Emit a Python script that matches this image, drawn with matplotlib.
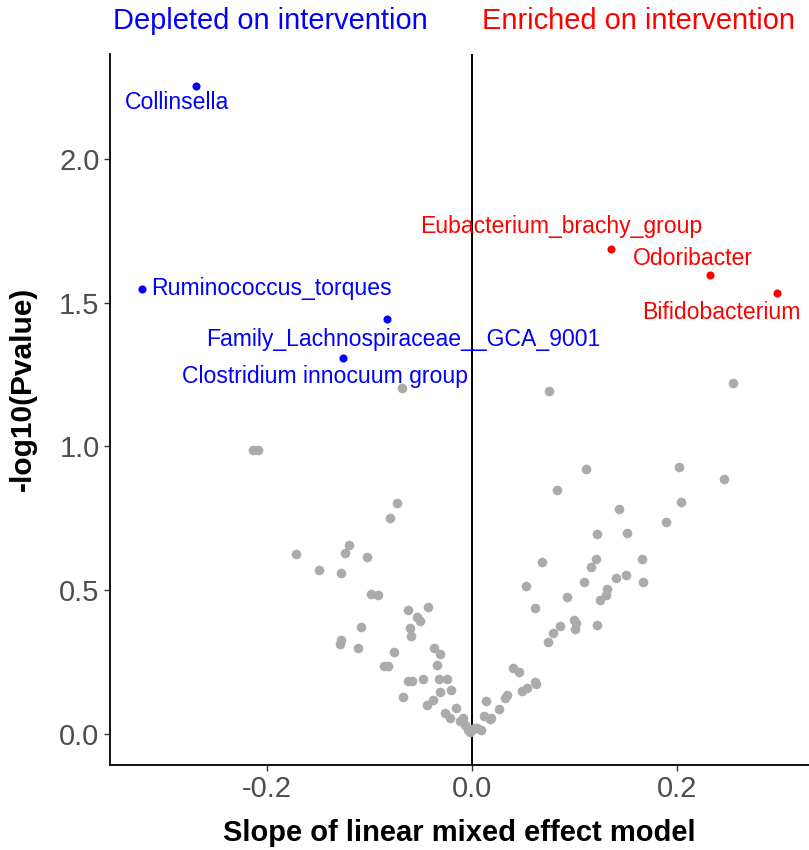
import matplotlib
matplotlib.use("Agg")
import matplotlib.pyplot as plt

plt.rcParams["font.family"] = ["Liberation Sans", "DejaVu Sans"]

# non-significant genera (grey)
grey_x = [-0.068, -0.2134, -0.2085, -0.0729, -0.0797, -0.1197, -0.1236, -0.1714, -0.1024,
          -0.1493, -0.1278, -0.0979, -0.0920, -0.0618, -0.0429, -0.0530, -0.0507, -0.1086,
          -0.0602, -0.0589, -0.1278, -0.1288, -0.1112, -0.0368, -0.0309, -0.0755, -0.0855,
          -0.0820, -0.0341, -0.0618, -0.0585, -0.0478, -0.0322, -0.0244, -0.0315, -0.0205,
          -0.0673, -0.0442, -0.0374, -0.0260, -0.0215, -0.0159, -0.0117, -0.0085, -0.0068,
          -0.0036, -0.0020,
          0.0013, 0.0046, 0.0094, 0.0137, 0.0117, 0.0190, 0.0176, 0.0267, 0.0322, 0.0345,
          0.0400, 0.0463, 0.0491, 0.0540, 0.0615, 0.0624, 0.0530, 0.0612, 0.0745, 0.0751,
          0.2546, 0.1115, 0.2026, 0.0829, 0.2462, 0.2039, 0.1434, 0.1899, 0.1226, 0.1519,
          0.0689, 0.1210, 0.1161, 0.1659, 0.1090, 0.1405, 0.1506, 0.1668, 0.0933, 0.1320,
          0.1314, 0.1252, 0.0793, 0.0865, 0.0995, 0.1015, 0.1005, 0.1223, 0.0030]
grey_y = [1.203, 0.988, 0.988, 0.802, 0.751, 0.658, 0.630, 0.625, 0.614,
          0.569, 0.560, 0.486, 0.482, 0.431, 0.441, 0.406, 0.394, 0.371,
          0.368, 0.340, 0.327, 0.313, 0.298, 0.300, 0.277, 0.286, 0.235,
          0.238, 0.240, 0.185, 0.183, 0.190, 0.190, 0.190, 0.146, 0.152,
          0.128, 0.102, 0.118, 0.074, 0.055, 0.090, 0.046, 0.055, 0.031,
          0.014, 0.008,
          0.016, 0.020, 0.014, 0.116, 0.062, 0.057, 0.051, 0.088, 0.124, 0.136,
          0.228, 0.215, 0.150, 0.159, 0.182, 0.173, 0.514, 0.437, 0.320, 1.194,
          1.219, 0.923, 0.927, 0.849, 0.887, 0.807, 0.782, 0.736, 0.696, 0.699,
          0.598, 0.610, 0.582, 0.608, 0.527, 0.541, 0.553, 0.529, 0.475, 0.504,
          0.485, 0.467, 0.352, 0.377, 0.397, 0.385, 0.365, 0.379, 0.020]

# depleted genera (blue)
dep_names = ["Collinsella", "Ruminococcus_torques", "Family_Lachnospiraceae__GCA_9001",
             "Clostridium innocuum group"]
dep_x = [-0.269, -0.322, -0.083, -0.126]
dep_y = [2.254, 1.548, 1.443, 1.308]

# enriched genera (red)
enr_names = ["Eubacterium_brachy_group", "Odoribacter", "Bifidobacterium"]
enr_x = [0.136, 0.232, 0.298]
enr_y = [1.687, 1.597, 1.534]

# label offsets (points) and alignment
dep_offsets = [(-14, -12, "center"), (7, 0, "left"), (12, -14.5, "center"), (-13, -13.5, "center")]
enr_offsets = [(-36, 16, "center"), (-12, 12, "center"), (-40, -14, "center")]

fig = plt.figure(figsize=(8.09, 8.5), dpi=100)
ax = fig.add_axes([0.136, 0.1, 0.864, 0.8365])

ax.scatter(grey_x, grey_y, s=48, color="#ABABAB", linewidths=0, zorder=2)
ax.scatter(dep_x, dep_y, s=34, color="#0000FF", linewidths=0, zorder=3)
ax.scatter(enr_x, enr_y, s=34, color="#FF0000", linewidths=0, zorder=3)

for name, x, y, (dx, dy, ha) in zip(dep_names, dep_x, dep_y, dep_offsets):
    ax.annotate(name, (x, y), xytext=(dx, dy), textcoords="offset points",
                ha=ha, va="center", color="#0000FF", fontsize=16.6, zorder=4)
for name, x, y, (dx, dy, ha) in zip(enr_names, enr_x, enr_y, enr_offsets):
    ax.annotate(name, (x, y), xytext=(dx, dy), textcoords="offset points",
                ha=ha, va="center", color="#FF0000", fontsize=16.6, zorder=4)

ax.axvline(0, color="black", linewidth=1.4, zorder=1)

ax.set_xlim(-0.353, 0.329)
ax.set_ylim(-0.108, 2.365)
ax.set_xticks([-0.2, 0.0, 0.2])
ax.set_xticklabels(["-0.2", "0.0", "0.2"])
ax.set_yticks([0.0, 0.5, 1.0, 1.5, 2.0])
ax.set_yticklabels(["0.0", "0.5", "1.0", "1.5", "2.0"])
ax.tick_params(labelsize=21, labelcolor="#4D4D4D", length=4, width=1, color="#333333")

for side in ["top", "right"]:
    ax.spines[side].set_visible(False)
for side in ["left", "bottom"]:
    ax.spines[side].set_linewidth(1.3)

ax.set_xlabel("Slope of linear mixed effect model", fontsize=21, fontweight="bold", labelpad=11)
ax.set_ylabel("-log10(Pvalue)", fontsize=21.5, fontweight="bold")
ax.yaxis.set_label_coords(-0.1044, 0.529)

ax.text(0.229, 1.046, "Depleted on intervention", transform=ax.transAxes,
        ha="center", va="center", color="#0000FF", fontsize=20.9)
ax.text(0.756, 1.046, "Enriched on intervention", transform=ax.transAxes,
        ha="center", va="center", color="#FF0000", fontsize=20.9)

fig.savefig("out.png", dpi=100)
